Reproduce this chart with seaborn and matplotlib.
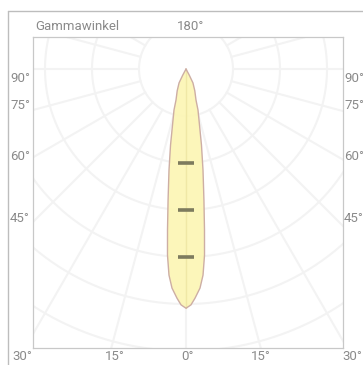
import numpy as np
import pandas as pd
import matplotlib
matplotlib.use("Agg")
import matplotlib.pyplot as plt
import seaborn as sns

# ---- data ----
gamma_deg = [0, 1.2, 2.25, 3.66, 4.72, 5.68, 6.55, 7.8, 9.55, 11.5, 14.3, 16.3, 17.9, 22, 26.6, 28, 30]
intensity = [509, 502, 488, 467, 440, 398, 345, 281, 218, 165, 112, 91, 69, 50, 33, 15, 0]
ring_values = [100, 200, 300, 400, 500, 600, 700, 800]
radial_marks = [200, 300, 400]
side_labels = ["90°", "75°", "60°", "45°"]
bottom_labels = ["30°", "15°", "0°", "15°", "30°"]
top_labels = ["Gammawinkel", "180°"]

W, H = 363, 365
sns.set_theme(style="white")
plt.rcParams['font.family'] = ['Roboto', 'DejaVu Sans']

fig = plt.figure(figsize=(W / 100, H / 100), dpi=100)
ax = fig.add_axes([33 / W, 1 - 348 / H, 310 / W, 311 / H])

grid_c = "#f3f3f3"
# concentric rings
t = np.linspace(0, 2 * np.pi, 720)
for r in ring_values:
    ax.plot(r * np.sin(t), r * np.cos(t), color=grid_c, lw=1.5, zorder=1)
# radial lines every 15 degrees, from first ring outward
for a in np.arange(0, 360, 15):
    ar = np.deg2rad(a)
    ax.plot([100 * np.sin(ar), 900 * np.sin(ar)], [-100 * np.cos(ar), -900 * np.cos(ar)],
            color=grid_c, lw=1.5, zorder=1)

# curve (symmetric, gamma measured from downward direction)
g = np.deg2rad(np.array(gamma_deg))
I = np.array(intensity, dtype=float)
gg = np.concatenate([-g[::-1], g[1:]])
II = np.concatenate([I[::-1], I[1:]])
df = pd.DataFrame({"x": II * np.sin(gg), "y": -II * np.cos(gg)})
ax.fill(df["x"], df["y"], color="#fcf6b4", alpha=0.92, zorder=2, lw=0)
sns.lineplot(data=df, x="x", y="y", sort=False, estimator=None, color="#cdaea4",
             lw=1.0, ax=ax, zorder=3)
ax.plot([0, 0], [0, -I[0]], color="#f0e8a6", lw=1.0, zorder=2.5)
# radial scale marks
ax.plot([0] * len(radial_marks), [-v for v in radial_marks], ls="none", marker="_",
        markersize=11, mew=2.6, color="#7d7b5e", zorder=4)

ax.set_xlim(-325.5, 334)
ax.set_ylim(-593.6, 68.1)
ax.set_aspect("auto")
ax.set_xticks([])
ax.set_yticks([])
ax.set_xlabel("")
ax.set_ylabel("")
for s in ax.spines.values():
    s.set_color("#c8c8c8")
    s.set_linewidth(0.9)

# outer frame
fig.add_artist(plt.Line2D([8 / W, 8 / W], [0, 1 - 11 / H], transform=fig.transFigure,
                          color="#bdbdbd", lw=1.0))
fig.add_artist(plt.Line2D([8 / W, 1], [1 - 11 / H, 1 - 11 / H], transform=fig.transFigure,
                          color="#bdbdbd", lw=1.0))

tc = "#8a8a8a"
fs = 9.5
def px_text(x, y, s, ha):
    fig.text(x / W, 1 - y / H, s, ha=ha, va="center", color=tc, fontsize=fs)

px_text(35, 27, top_labels[0], "left")
px_text(191, 27, top_labels[1], "center")
for lab, y in zip(side_labels, [78, 106, 157, 218]):
    px_text(10, y, lab, "left")
    px_text(344, y, lab, "left")
for lab, x in zip(bottom_labels, [22, 115, 187, 261, 352]):
    px_text(x, 357, lab, "center")

fig.savefig("out.png", dpi=100, facecolor="white")
